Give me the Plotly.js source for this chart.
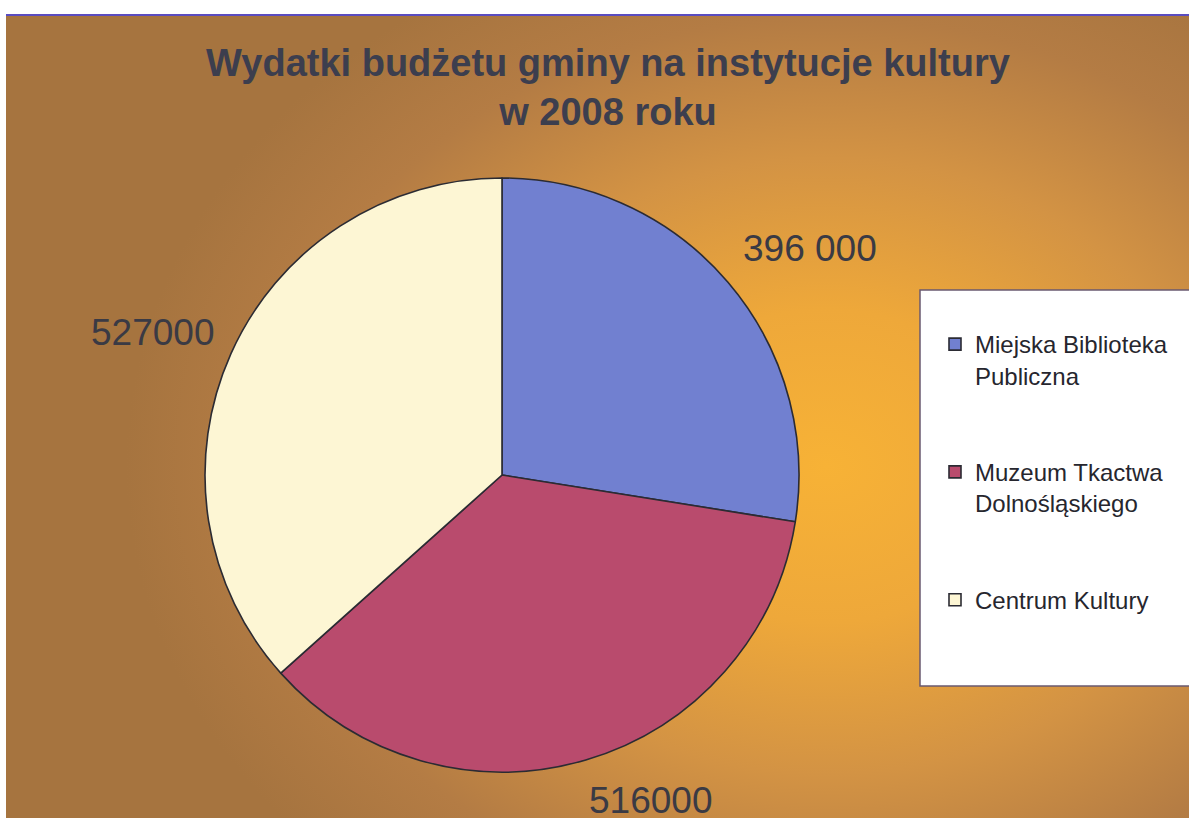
<!DOCTYPE html>
<html>
<head>
<meta charset="utf-8">
<script src="https://cdn.plot.ly/plotly-3.0.1.min.js"></script>
<style>
  html, body { margin: 0; padding: 0; background: #ffffff; }
  #bg {
    position: absolute; left: 6px; top: 14px; width: 1183px; height: 804px;
    background: radial-gradient(ellipse 700px 560px at 820px 450px, #f7b236 0%, #eea83a 28%, #d39344 55%, #b47c44 80%, #a6743f 100%);
    border-top: 2px solid #5a4cc0;
    box-sizing: border-box;
  }
  #chart { position: absolute; left: 0; top: 0; width: 1189px; height: 820px; }
</style>
</head>
<body>
<div id="bg"></div>
<div id="chart"></div>
<script>
// Data
const categories = ["Miejska Biblioteka<br>Publiczna", "Muzeum Tkactwa<br>Dolnośląskiego", "Centrum Kultury"];
const values = [396000, 516000, 527000];
const valueLabels = ["396 000", "516000", "527000"];
const sliceColors = ["#7180d0", "#b94b6d", "#fdf6d4"];
const titleText = "Wydatki budżetu gminy na instytucje kultury<br>w 2008 roku";

// label anchor positions (paper coords)
const labelPos = [[0.681, 0.697], [0.547, 0.024], [0.128, 0.595]];

const W = 1189, H = 820;
const cx = 502, cy = 475, R = 297;

const spacer = "<br> <br> ";
const legendLabels = categories.map((c, i) => i < categories.length - 1 ? c + spacer : c);

const trace = {
  type: "pie",
  labels: legendLabels,
  values: values,
  sort: false,
  direction: "clockwise",
  rotation: 0,
  textinfo: "none",
  hoverinfo: "skip",
  marker: { colors: sliceColors, line: { color: "#2b2b33", width: 1.6 } },
  domain: {
    x: [(cx - R) / W, (cx + R) / W],
    y: [(H - cy - R) / H, (H - cy + R) / H]
  }
};

const annotations = valueLabels.map((t, i) => ({
  text: t, xref: "paper", yref: "paper",
  x: labelPos[i][0], y: labelPos[i][1],
  xanchor: "center", yanchor: "middle", showarrow: false,
  font: { family: "Liberation Sans, Arial, sans-serif", size: 37, color: "#3a3a44" }
}));

const layout = {
  width: W, height: H,
  margin: { l: 0, r: 0, t: 0, b: 0 },
  paper_bgcolor: "rgba(0,0,0,0)",
  plot_bgcolor: "rgba(0,0,0,0)",
  title: {
    text: titleText,
    x: 608 / W, xanchor: "center",
    y: 1 - 76 / H, yanchor: "top", yref: "container",
    font: { family: "Liberation Sans, Arial, sans-serif", size: 38, color: "#3c3e4e", weight: "bold" }
  },
  showlegend: true,
  legend: {
    x: 935 / W, xanchor: "left",
    y: 1 - 322 / H, yanchor: "top",
    bgcolor: "rgba(0,0,0,0)",
    borderwidth: 0,
    valign: "top",
    font: { family: "Liberation Sans, Arial, sans-serif", size: 24, color: "#26262e" },
    traceorder: "normal"
  },
  shapes: [{
    type: "rect", xref: "paper", yref: "paper", layer: "below",
    x0: 920 / W, x1: 1.01, y0: 1 - 686 / H, y1: 1 - 290 / H,
    fillcolor: "#ffffff", line: { color: "#6a5a70", width: 1.5 }
  }],
  annotations: annotations
};

Plotly.newPlot("chart", [trace], layout, { displayModeBar: false, staticPlot: true });
</script>
</body>
</html>
